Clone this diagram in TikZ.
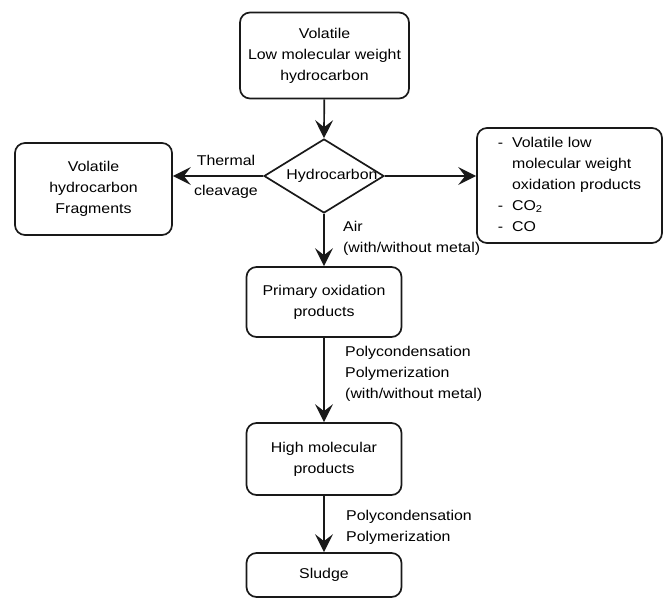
\documentclass[tikz,border=0pt]{standalone}
\usepackage{fontspec}
\setmainfont[FakeStretch=1.12]{Liberation Sans}
\usetikzlibrary{shapes.geometric,arrows.meta}
\begin{document}
\begin{tikzpicture}[x=1pt,y=-1pt,
  every node/.style={font=\fontsize{14.2}{21}\selectfont, text=black},
  box/.style={draw=black!90, line width=1.7pt, rounded corners=10pt, align=center, inner sep=0pt},
  diam/.style={draw=black!90, line width=1.7pt, diamond, inner sep=0pt, minimum width=120pt, minimum height=74pt},
  conn/.style={draw=black!90, line width=1.7pt, -{Stealth[length=18pt,width=18pt,inset=7pt]}},
  lbl/.style={inner sep=0pt, align=left}
]
\useasboundingbox (0,0) rectangle (664,599);

\node[box, minimum width=169pt, minimum height=86pt] (top) at (324.5,55.5)
  {Volatile\\Low molecular weight\\hydrocarbon};
\node[diam] (hc) at (324,176) {};
\node[inner sep=0pt] (hctext) at (332,176) {Hydrocarbon};
\node[box, minimum width=157pt, minimum height=92pt] (left) at (93.5,189)
  {Volatile\\hydrocarbon\\Fragments};
\node[box, minimum width=185pt, minimum height=115pt] (right) at (569.5,185.5)
  {\begin{tabular}{@{}l@{\hspace{9pt}}l@{}}-&Volatile low\\&molecular weight\\&oxidation products\\-&CO\textsubscript{2}\\-&CO\end{tabular}};
\node[box, minimum width=155pt, minimum height=70pt] (prim) at (324,302)
  {Primary oxidation\\products};
\node[box, minimum width=155pt, minimum height=72pt] (high) at (324,459)
  {High molecular\\products};
\node[box, minimum width=155pt, minimum height=44pt] (sludge) at (324,575)
  {Sludge};

\draw[conn] (top) -- (hc.north);
\draw[conn] (hc.west) -- (hc.west -| left.east);
\draw[conn] (hc.east) -- (hc.east -| right.west);
\draw[conn] (hc.south) -- (prim);
\draw[conn] (prim) -- (high);
\draw[conn] (high) -- (sludge);

\node[inner sep=0pt] (th) at (226,160) {Thermal};
\node[inner sep=0pt] (cl) at (226,192) {cleavage};
\node[lbl, anchor=west] (air) at (343,238.5) {Air\\(with/without metal)};
\node[lbl, anchor=west] (poly1) at (345,374) {Polycondensation\\Polymerization\\(with/without metal)};
\node[lbl, anchor=west] (poly2) at (346,527) {Polycondensation\\Polymerization};
\end{tikzpicture}
\end{document}
